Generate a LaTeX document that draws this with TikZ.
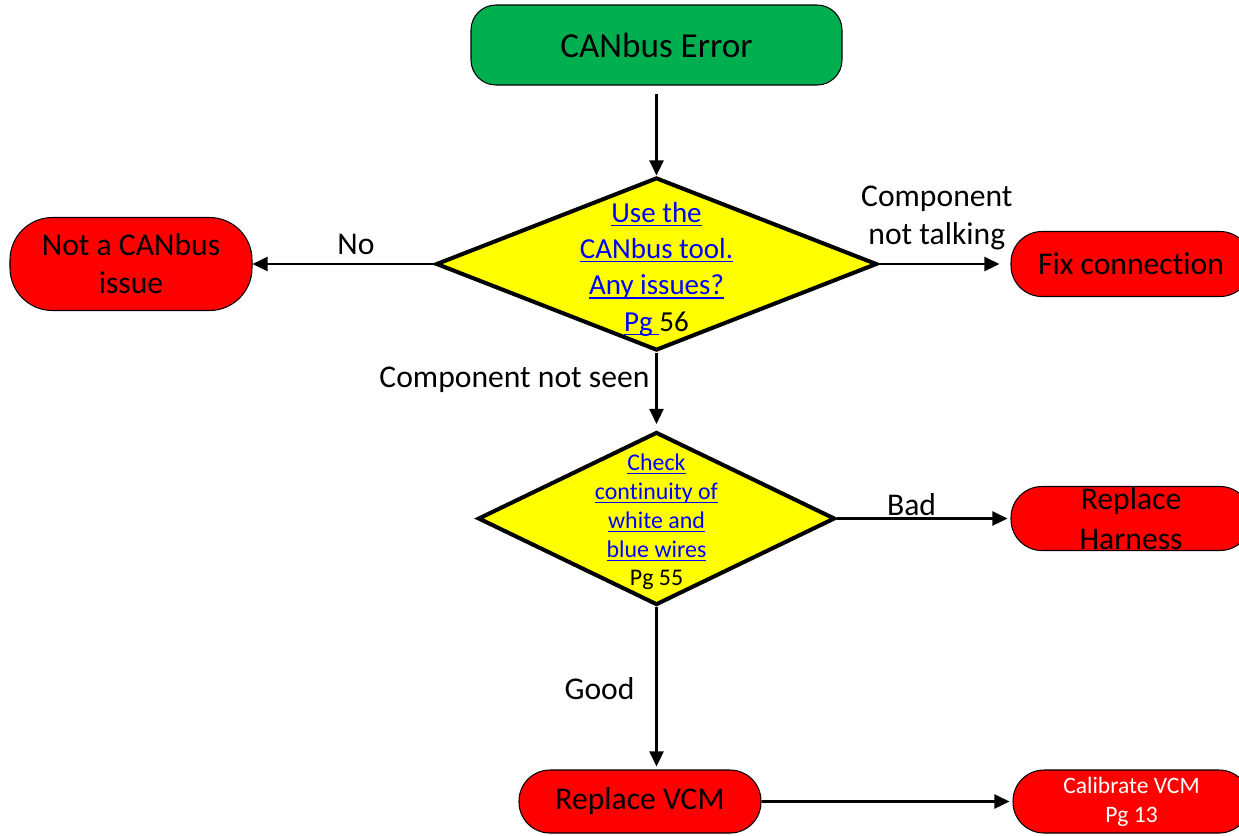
\documentclass[tikz,border=0pt]{standalone}
\usepackage{fontspec}
\setmainfont{Carlito}[Ligatures={NoCommon}]
\usetikzlibrary{shapes.geometric,positioning,arrows.meta}

\definecolor{startgreen}{HTML}{00B050}
\definecolor{stopred}{HTML}{FF0000}
\definecolor{askyellow}{HTML}{FFFF00}
\definecolor{linkblue}{HTML}{0000FF}

% blue underlined page link
\newcommand{\lnk}[1]{{\color{linkblue}\setbox0\hbox{#1}\rlap{\rule[-2.2pt]{\wd0}{0.7pt}}\box0}}

\begin{document}
\begin{tikzpicture}[
        >={Triangle[length=0.3cm,width=0.28cm]}, % sets arrowhead style
        flow/.style={->, line width=1.3pt},
        term/.style={draw, line width=0.6pt, fill=stopred, inner sep=0pt,
            rounded corners=0.62cm, align=center,
            font=\fontsize{18}{21.5}\selectfont},
        decide/.style={draw, shape=diamond, line width=2.3pt, fill=askyellow,
            inner sep=0pt},
        lbl/.style={align=center, font=\fontsize{18}{21.5}\selectfont},
    ]
        \useasboundingbox (0,0) rectangle (24.78,-16.7);

        % Nodes
        \node[term, fill=startgreen, minimum width=7.42cm, minimum height=1.6cm,
            rounded corners=0.5cm, font=\fontsize{20}{24}\selectfont]
            (err) at (13.13,-0.9) {CANbus Error};

        \node[decide, minimum width=8.82cm, minimum height=3.46cm] (q1) at (13.13,-5.28) {};
        \node[align=center, font=\fontsize{16.5}{20.7}\selectfont, yshift=-0.1cm]
            (q1txt) at (q1.center)
            {\lnk{Use the}\\ \lnk{CANbus tool.}\\ \lnk{Any issues?}\\ \lnk{Pg\ }56};

        \node[term, minimum width=4.84cm, minimum height=1.86cm, rounded corners=0.85cm]
            (notcan) at (2.62,-5.28) {Not a CANbus\\ issue};
        \node[term, minimum width=4.8cm, minimum height=1.3cm]
            (fix) at (22.62,-5.28) {Fix connection};

        \node[decide, minimum width=7.14cm, minimum height=3.46cm] (q2) at (13.13,-10.37) {};
        \node[align=center, font=\fontsize{13.6}{16.4}\selectfont, yshift=-0.07cm]
            (q2txt) at (q2.center)
            {\lnk{Check}\\ \lnk{continuity of}\\ \lnk{white and}\\ \lnk{blue wires}\\ Pg 55};

        \node[term, minimum width=4.8cm, minimum height=1.28cm,
            font=\fontsize{18}{22.5}\selectfont]
            (harn) at (22.62,-10.37) {Replace\\ Harness};

        \node[term, minimum width=4.84cm, minimum height=1.26cm]
            (vcm) at (12.8,-16.03) {Replace VCM};
        \node[term, minimum width=4.74cm, minimum height=1.26cm, text=white,
            font=\fontsize{13.4}{16.4}\selectfont]
            (cal) at (22.63,-16.03) {Calibrate VCM\\ Pg 13};

        % Connectors
        \draw[flow, shorten <=0.16cm] (err) -- (q1);

        \draw[flow] (q1.west) --
            node[lbl, above, pos=0.43, yshift=0.04cm] {No} (notcan.east);

        \draw[flow, shorten >=0.22cm] (q1.east) --
            node[lbl, above, pos=0.44, yshift=0.14cm] {Component\\ not talking} (fix.west);

        \draw[flow, shorten >=0.12cm] (q1.south) --
            node[lbl, left, pos=0.35] {Component not seen} (q2.north);

        \draw[flow, shorten >=0.06cm] (q2.east) --
            node[lbl, above, pos=0.43, yshift=-0.08cm] {Bad} (harn.west);

        \draw[flow, shorten >=0.06cm] (q2.south) --
            node[lbl, left, pos=0.5, xshift=-0.3cm] {Good} (q2.south |- vcm.north);

        \draw[flow, shorten >=0.06cm] (vcm.east) -- (cal.west);

    \end{tikzpicture}
\end{document}
